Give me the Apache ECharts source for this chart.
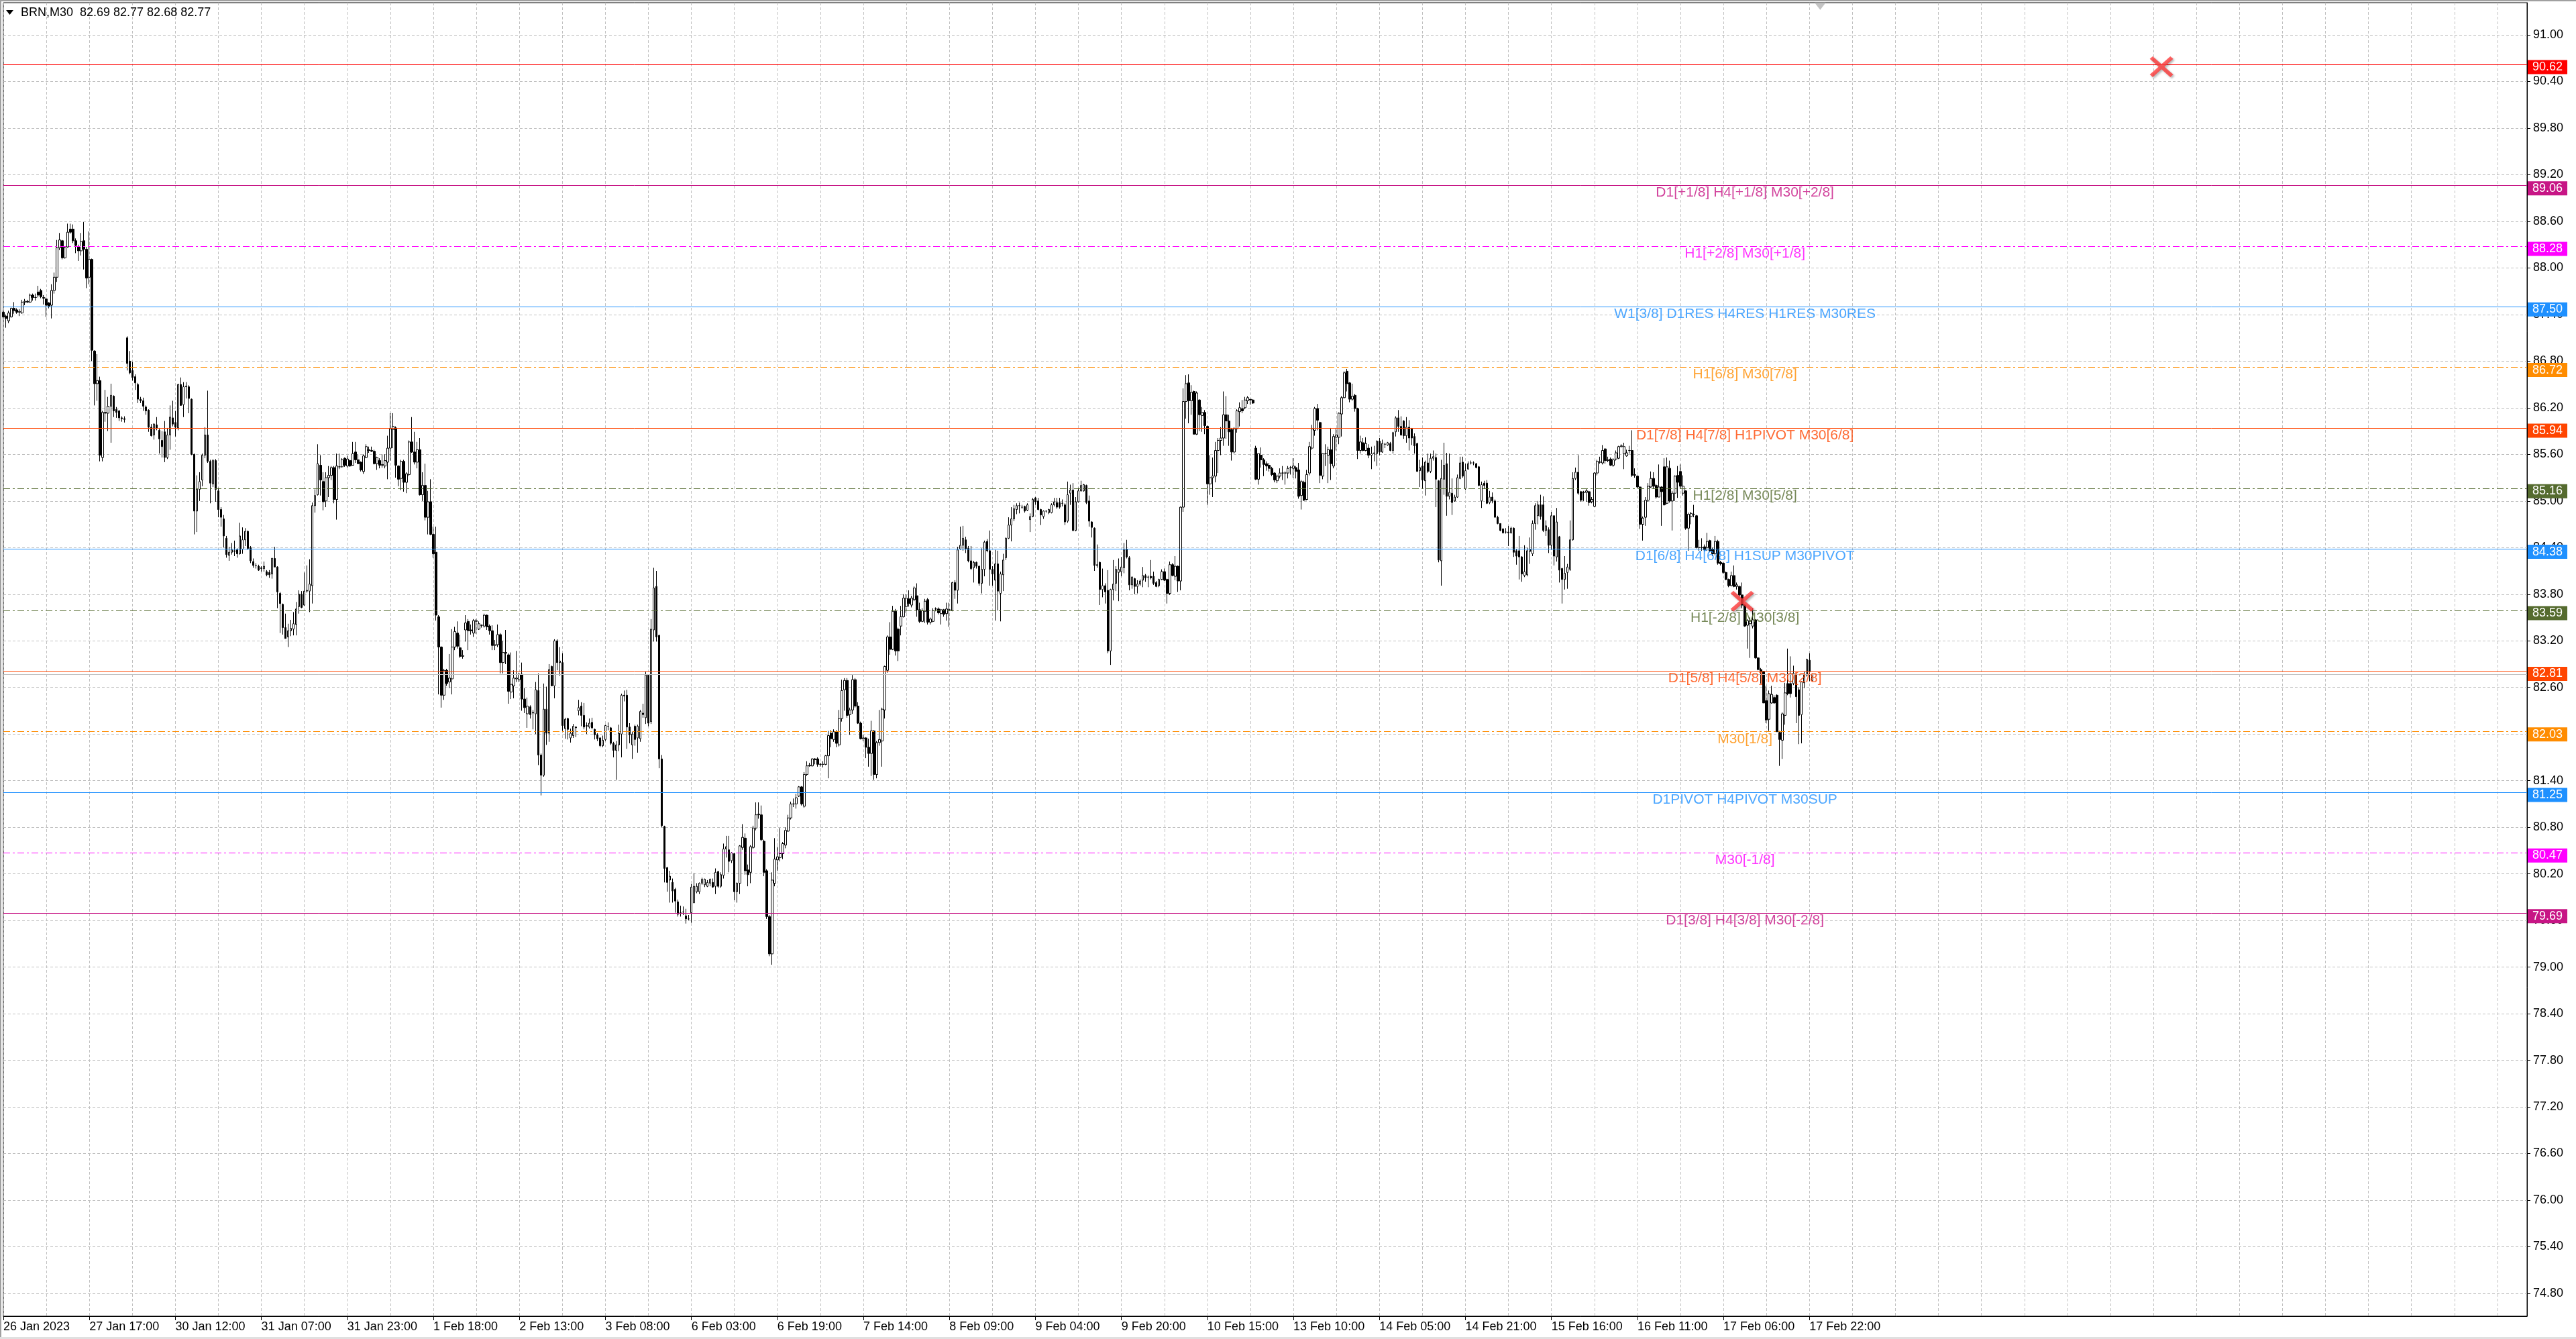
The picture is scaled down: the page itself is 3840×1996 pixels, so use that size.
<!DOCTYPE html>
<html>
<head>
<meta charset="utf-8">
<title>BRN,M30</title>
<script src="https://cdn.jsdelivr.net/npm/echarts@6.0.0/dist/echarts.min.js"></script>
<style>
html,body{margin:0;padding:0;background:#fff;}
#chart{width:3840px;height:1996px;}
</style>
</head>
<body>
<div id="chart"></div>
<script>
var symbolName = 'BRN,M30';

// x axis: one label every 32 bars
var tickLabels = ['26 Jan 2023','27 Jan 17:00','30 Jan 12:00','31 Jan 07:00','31 Jan 23:00','1 Feb 18:00',
  '2 Feb 13:00','3 Feb 08:00','6 Feb 03:00','6 Feb 19:00','7 Feb 14:00','8 Feb 09:00','9 Feb 04:00',
  '9 Feb 20:00','10 Feb 15:00','13 Feb 10:00','14 Feb 05:00','14 Feb 21:00','15 Feb 16:00',
  '16 Feb 11:00','17 Feb 06:00','17 Feb 22:00'];
var slotCount = 940;

// price axis
var yMin = 74.506, yMax = 91.4145;
var yTicks = [74.80,75.40,76.00,76.60,77.20,77.80,78.40,79.00,79.60,80.20,80.80,81.40,82.00,82.60,
  83.20,83.80,84.40,85.00,85.60,86.20,86.80,87.40,88.00,88.60,89.20,89.80,90.40,91.00];

// murrey / pivot levels
var levels = [90.62,89.06,88.28,87.50,86.72,85.94,85.16,84.38,83.59,82.81,82.03,81.25,80.47,79.69];
var levelColors = ['#ff0000','#c71585','#ff00ff','#1e90ff','#ff8c00','#ff4500','#556b2f',
  '#1e90ff','#556b2f','#ff4500','#ff8c00','#1e90ff','#ff00ff','#c71585'];
var levelDashed = [0,0,1,0,1,0,1,0,1,0,1,0,1,0];
var levelTexts = ['','D1[+1/8] H4[+1/8] M30[+2/8]','H1[+2/8] M30[+1/8]','W1[3/8] D1RES H4RES H1RES M30RES',
  'H1[6/8] M30[7/8]','D1[7/8] H4[7/8] H1PIVOT M30[6/8]','H1[2/8] M30[5/8]','D1[6/8] H4[6/8] H1SUP M30PIVOT',
  'H1[-2/8] M30[3/8]','D1[5/8] H4[5/8] M30[2/8]','M30[1/8]','D1PIVOT H4PIVOT M30SUP','M30[-1/8]',
  'D1[3/8] H4[3/8] M30[-2/8]'];
var levelTextSlot = 648;
var bidPrice = 82.77;

// red cross objects and chart shift marker
var crossSlots = [647, 803];
var crossPrices = [83.71, 90.59];
var shiftSlot = 676, shiftPrice = 91.37;

// M30 bars: [open, high, low, close]
var bars = [
[87.43,87.45,87.35,87.37],[87.38,87.40,87.23,87.35],[87.32,87.45,87.29,87.42],[87.37,87.49,87.36,87.48],[87.48,87.56,87.41,87.45],
[87.46,87.48,87.41,87.43],[87.43,87.47,87.38,87.44],[87.42,87.59,87.41,87.56],[87.56,87.60,87.52,87.57],[87.57,87.59,87.55,87.56],
[87.56,87.67,87.55,87.65],[87.65,87.67,87.58,87.62],[87.62,87.67,87.58,87.62],[87.69,87.77,87.62,87.65],[87.71,87.73,87.61,87.63],
[87.62,87.65,87.53,87.61],[87.60,87.62,87.37,87.52],[87.55,87.56,87.48,87.51],[87.52,87.79,87.35,87.71],[87.71,87.94,87.67,87.88],
[87.88,88.36,87.82,88.26],[88.26,88.45,88.23,88.36],[88.35,88.36,88.11,88.13],[88.13,88.28,88.12,88.26],[88.27,88.57,88.26,88.46],
[88.50,88.57,88.44,88.46],[88.50,88.56,88.32,88.35],[88.35,88.38,88.19,88.29],[88.27,88.30,88.09,88.22],[88.22,88.45,88.16,88.34],
[88.35,88.59,87.98,88.24],[88.24,88.27,87.74,87.87],[87.88,88.47,87.79,88.11],[88.11,88.12,86.80,86.94],[86.93,86.94,86.23,86.51],
[86.51,86.89,86.29,86.55],[86.55,86.60,85.51,85.59],[85.56,86.16,85.51,86.14],[86.14,86.43,86.02,86.13],[86.13,86.34,85.90,86.22],
[86.22,86.51,85.75,86.36],[86.35,86.36,86.08,86.16],[86.18,86.21,86.07,86.14],[86.16,86.17,86.03,86.07],[86.07,86.09,86.02,86.06],
[86.06,86.09,86.01,86.05],[87.10,87.12,86.68,86.77],[86.80,86.93,86.63,86.65],[86.68,86.79,86.55,86.59],[86.60,86.63,86.43,86.52],
[86.50,86.52,86.26,86.31],[86.31,86.34,86.26,86.29],[86.29,86.33,86.16,86.22],[86.21,86.23,86.11,86.16],[86.17,86.18,85.89,85.95],
[85.95,85.99,85.83,85.84],[85.85,86.00,85.79,85.99],[85.98,86.08,85.91,85.94],[85.91,85.94,85.61,85.80],[85.78,85.90,85.56,85.70],
[85.89,86.03,85.50,85.56],[85.56,85.94,85.54,85.85],[85.85,86.23,85.66,86.08],[86.07,86.29,85.96,85.99],[86.01,86.16,85.83,85.95],
[85.94,86.51,85.91,86.50],[86.50,86.59,86.23,86.23],[86.24,86.53,86.08,86.47],[86.47,86.53,86.32,86.48],[86.47,86.49,86.13,86.32],
[86.31,86.32,85.59,85.60],[85.60,85.61,84.57,84.87],[84.87,85.33,84.60,85.15],[85.15,85.37,85.00,85.25],[85.27,85.61,85.19,85.59],
[85.59,85.95,85.55,85.85],[85.85,86.42,85.49,85.51],[85.51,85.53,84.97,85.23],[85.22,85.54,85.18,85.52],[85.52,85.54,84.99,85.15],
[85.13,85.17,84.79,84.89],[84.89,84.92,84.67,84.79],[84.77,84.82,84.40,84.55],[84.52,84.55,84.27,84.31],[84.30,84.41,84.23,84.34],
[84.34,84.46,84.31,84.37],[84.36,84.49,84.29,84.35],[84.37,84.39,84.27,84.32],[84.32,84.72,84.31,84.55],[84.38,84.66,84.32,84.50],
[84.50,84.65,84.42,84.61],[84.61,84.62,84.37,84.39],[84.40,84.42,84.20,84.23],[84.22,84.26,84.14,84.17],[84.17,84.20,84.13,84.17],
[84.16,84.18,84.10,84.11],[84.13,84.16,84.09,84.14],[84.13,84.22,84.09,84.16],[84.09,84.11,84.03,84.05],[84.08,84.11,84.01,84.05],
[84.06,84.27,84.00,84.26],[84.26,84.41,84.15,84.15],[84.15,84.16,83.62,83.83],[83.81,83.83,83.30,83.68],[83.67,83.68,83.28,83.37],
[83.37,83.55,83.23,83.23],[83.25,83.42,83.12,83.33],[83.33,83.47,83.26,83.36],[83.35,83.57,83.27,83.42],[83.41,83.70,83.27,83.61],
[83.64,83.85,83.55,83.80],[83.80,83.84,83.62,83.63],[83.66,84.08,83.65,83.84],[83.84,84.17,83.82,83.85],[83.84,84.25,83.57,83.93],
[83.91,84.98,83.68,84.94],[84.94,85.15,84.85,85.07],[85.08,85.73,85.07,85.48],[85.46,85.59,85.07,85.27],[85.25,85.37,84.88,84.99],
[85.00,85.37,84.92,85.30],[85.30,85.45,85.05,85.33],[85.33,85.45,85.27,85.43],[85.43,85.45,84.97,85.02],[85.02,85.61,84.76,85.45],
[85.44,85.61,85.41,85.44],[85.44,85.55,85.43,85.53],[85.55,85.56,85.44,85.46],[85.45,85.58,85.43,85.54],[85.52,85.53,85.44,85.45],
[85.46,85.76,85.46,85.61],[85.63,85.76,85.49,85.53],[85.53,85.60,85.48,85.48],[85.50,85.51,85.38,85.40],[85.38,85.60,85.35,85.58],
[85.56,85.73,85.55,85.70],[85.66,85.70,85.62,85.65],[85.65,85.70,85.63,85.64],[85.64,85.66,85.47,85.48],[85.48,85.57,85.40,85.56],
[85.52,85.55,85.42,85.46],[85.46,85.60,85.43,85.47],[85.45,85.60,85.42,85.52],[85.50,85.84,85.28,85.68],[85.68,86.13,85.52,85.93],
[85.92,86.13,85.68,85.96],[85.94,85.96,85.30,85.46],[85.45,85.46,85.19,85.28],[85.29,85.53,85.14,85.51],[85.51,85.53,85.12,85.24],
[85.24,85.37,85.10,85.35],[85.34,85.78,85.32,85.76],[85.76,86.08,85.62,85.63],[85.63,85.89,85.47,85.50],[85.50,85.76,85.42,85.66],
[85.66,85.81,85.07,85.08],[85.08,85.37,85.00,85.20],[85.20,85.48,84.75,84.79],[84.79,85.13,84.57,84.99],[84.99,85.28,84.56,84.57],
[84.57,84.67,84.27,84.32],[84.34,84.67,83.46,83.53],[83.51,83.53,82.51,83.12],[83.12,83.13,82.34,82.50],[82.50,82.84,82.44,82.82],
[82.82,82.84,82.62,82.65],[82.67,83.03,82.59,82.72],[82.71,83.35,82.51,83.12],[83.12,83.38,83.08,83.32],[83.30,83.45,83.10,83.13],
[83.11,83.28,82.98,83.00],[83.00,83.08,82.97,83.01],[83.34,83.53,83.19,83.43],[83.45,83.48,83.08,83.33],[83.34,83.41,83.28,83.33],
[83.30,83.48,83.25,83.46],[83.45,83.48,83.29,83.46],[83.35,83.45,83.34,83.42],[83.40,83.41,83.37,83.40],[83.39,83.55,83.37,83.53],
[83.53,83.54,83.34,83.38],[83.39,83.41,83.28,83.33],[83.33,83.40,83.08,83.14],[83.14,83.21,83.08,83.15],[83.15,83.41,83.12,83.28],
[83.28,83.30,82.78,82.92],[82.92,83.20,82.78,83.05],[83.05,83.34,82.90,83.04],[83.02,83.04,82.39,82.55],[82.54,83.05,82.45,82.64],
[82.62,82.82,82.46,82.72],[82.71,83.07,82.67,82.72],[82.70,82.79,82.67,82.77],[82.77,82.92,82.30,82.45],[82.45,82.59,82.27,82.34],
[82.26,82.47,82.08,82.36],[82.35,82.37,82.20,82.25],[82.27,82.31,82.06,82.28],[82.26,82.67,82.00,82.57],[82.56,82.78,81.60,81.73],
[81.73,81.75,81.21,81.47],[81.47,82.65,81.45,82.32],[82.32,82.61,81.86,82.01],[82.01,82.90,81.90,82.83],[82.87,82.88,82.62,82.62],
[82.62,83.22,82.46,83.20],[83.20,83.22,82.82,82.92],[82.92,83.12,82.75,82.94],[82.92,83.04,82.04,82.11],[82.07,82.21,81.94,82.19],
[82.20,82.21,81.93,82.06],[81.95,82.07,81.89,82.01],[81.98,82.13,81.95,82.10],[82.09,82.10,81.96,82.08],[82.30,82.44,82.24,82.34],
[82.36,82.41,82.10,82.24],[82.24,82.40,82.06,82.09],[82.11,82.15,82.00,82.10],[82.09,82.20,82.07,82.14],[82.15,82.21,82.06,82.08],
[82.06,82.07,81.93,81.99],[81.99,82.01,81.91,81.94],[81.95,81.96,81.83,81.85],[81.85,81.98,81.83,81.92],[81.93,82.12,81.91,82.11],
[82.10,82.15,82.05,82.10],[82.08,82.09,81.86,81.88],[81.88,81.90,81.70,81.79],[81.79,81.91,81.41,81.86],[81.86,82.12,81.78,82.01],
[82.00,82.52,81.70,82.50],[82.50,82.56,82.42,82.49],[82.50,82.57,81.81,82.09],[82.09,82.14,81.88,81.99],[81.86,82.03,81.68,82.00],
[82.10,82.12,81.85,81.93],[81.95,82.12,81.76,82.10],[81.94,82.31,81.90,82.29],[82.27,82.39,82.21,82.25],[82.21,82.80,82.13,82.76],
[82.76,82.77,82.10,82.14],[82.16,83.48,82.13,83.35],[83.34,84.14,83.19,83.88],[83.90,84.10,83.19,83.25],[83.27,83.28,81.56,81.68],
[81.68,81.73,80.80,80.82],[80.81,80.82,80.09,80.27],[80.28,80.29,79.97,80.09],[80.12,80.24,79.83,80.17],[80.09,80.14,79.83,79.98],
[80.00,80.02,79.70,79.85],[79.84,79.87,79.65,79.68],[79.69,79.79,79.65,79.70],[79.71,79.78,79.67,79.71],[79.66,79.75,79.56,79.62],
[79.62,79.67,79.60,79.62],[79.70,80.07,79.57,80.03],[79.83,80.21,79.82,80.04],[79.97,80.08,79.95,80.04],[79.97,80.09,79.94,80.08],
[80.08,80.15,80.06,80.13],[80.06,80.14,80.03,80.13],[80.04,80.12,80.03,80.09],[80.08,80.14,80.04,80.13],[80.09,80.14,80.02,80.03],
[80.04,80.27,79.94,80.22],[80.23,80.24,80.02,80.04],[80.04,80.22,80.02,80.19],[80.18,80.59,80.14,80.52],[80.52,80.69,80.41,80.55],
[80.51,80.69,80.22,80.36],[80.37,80.48,80.34,80.47],[80.46,80.47,79.86,79.97],[79.97,80.09,79.83,80.08],[80.08,80.57,79.94,80.56],
[80.54,80.84,80.51,80.67],[80.66,80.72,80.19,80.24],[80.25,80.32,80.04,80.19],[80.22,80.57,80.08,80.55],[80.54,80.82,80.52,80.79],
[80.79,81.12,80.76,80.96],[80.96,81.12,80.91,80.97],[80.96,81.08,80.62,80.64],[80.62,80.64,80.17,80.22],[80.24,80.26,79.62,79.65],
[79.65,79.67,79.14,79.17],[79.17,80.22,79.03,80.12],[80.08,80.66,80.04,80.39],[80.38,80.55,80.24,80.42],[80.41,80.79,80.36,80.46],
[80.46,80.61,80.39,80.59],[80.57,80.80,80.53,80.76],[80.75,80.96,80.74,80.92],[80.92,81.13,80.90,81.10],[81.10,81.17,81.06,81.10],
[81.10,81.23,81.04,81.18],[81.20,81.33,81.19,81.32],[81.32,81.33,81.08,81.10],[81.07,81.51,81.05,81.48],[81.48,81.65,81.46,81.59],
[81.59,81.63,81.58,81.60],[81.59,81.69,81.58,81.68],[81.68,81.69,81.61,81.67],[81.68,81.70,81.58,81.61],[81.61,81.63,81.58,81.61],
[81.61,81.65,81.57,81.61],[81.61,81.73,81.60,81.72],[81.72,82.04,81.43,81.98],[82.01,82.05,81.83,81.94],[81.93,82.06,81.90,82.03],
[82.03,82.05,81.83,81.88],[81.86,82.31,81.84,82.20],[82.20,82.70,82.16,82.56],[82.57,82.72,82.30,82.69],[82.69,82.72,82.21,82.24],
[82.25,82.34,81.99,82.31],[82.31,82.76,82.26,82.70],[82.70,82.72,82.34,82.36],[82.36,82.41,82.13,82.14],[82.14,82.16,81.93,81.94],
[81.94,81.99,81.91,81.95],[81.95,81.96,81.69,81.83],[81.83,81.94,81.58,81.75],[81.75,82.17,81.46,82.04],[82.04,82.05,81.41,81.48],
[81.48,81.91,81.43,81.89],[81.89,82.31,81.85,81.93],[81.91,82.34,81.58,82.32],[82.31,82.88,82.20,82.87],[82.82,83.27,82.79,83.25],
[83.25,83.44,83.02,83.09],[83.09,83.65,83.08,83.58],[83.58,83.61,83.01,83.07],[83.35,83.37,82.94,83.07],[83.39,83.65,83.27,83.51],
[83.51,83.80,83.50,83.75],[83.64,83.80,83.56,83.75],[83.74,83.85,83.64,83.68],[83.66,83.78,83.63,83.75],[83.73,83.90,83.71,83.88],
[83.78,83.94,83.51,83.60],[83.60,83.69,83.43,83.45],[83.45,83.62,83.44,83.59],[83.58,83.74,83.43,83.71],[83.73,83.75,83.41,83.44],
[83.44,83.50,83.41,83.48],[83.45,83.62,83.44,83.59],[83.61,83.63,83.58,83.61],[83.61,83.63,83.54,83.56],[83.55,83.61,83.41,83.60],
[83.60,83.61,83.51,83.54],[83.55,83.69,83.46,83.61],[83.60,83.69,83.38,83.60],[83.59,83.96,83.58,83.95],[83.95,83.98,83.74,83.85],
[83.85,84.41,83.68,84.37],[84.38,84.67,84.37,84.43],[84.43,84.68,84.36,84.52],[84.50,84.54,84.33,84.38],[84.39,84.42,84.21,84.23],
[84.23,84.42,84.11,84.13],[84.14,84.23,83.95,84.21],[84.21,84.22,84.13,84.16],[84.16,84.17,83.91,83.94],[83.94,84.39,83.81,84.12],
[84.12,84.49,84.03,84.47],[84.48,84.51,84.34,84.36],[84.36,84.62,83.91,84.12],[84.12,84.16,83.91,84.06],[83.98,84.37,83.46,84.19],
[84.19,84.36,83.59,83.84],[83.81,84.09,83.45,84.06],[84.05,84.32,83.84,84.24],[84.27,84.53,84.24,84.52],[84.52,84.79,84.51,84.69],
[84.69,84.92,84.48,84.77],[84.77,84.95,84.74,84.90],[84.89,84.97,84.83,84.94],[84.94,84.98,84.84,84.94],[84.92,84.95,84.90,84.92],
[84.93,84.94,84.85,84.87],[84.88,84.97,84.87,84.95],[84.76,84.84,84.60,84.80],[84.80,85.04,84.79,85.02],[85.04,85.05,84.95,84.99],
[85.00,85.04,84.88,84.89],[84.89,84.90,84.69,84.82],[84.80,84.88,84.77,84.87],[84.87,84.88,84.85,84.87],[84.85,84.90,84.83,84.89],
[84.85,84.97,84.84,84.95],[84.95,85.04,84.93,84.99],[84.98,85.04,84.90,84.92],[84.98,85.04,84.90,84.92],[84.97,85.02,84.93,84.97],
[84.95,84.97,84.69,84.73],[84.74,85.25,84.72,85.08],[85.10,85.21,84.95,85.14],[85.14,85.23,84.61,84.62],[84.62,85.05,84.61,84.99],
[84.99,85.17,84.98,85.13],[85.13,85.26,85.12,85.20],[85.13,85.22,85.12,85.21],[85.20,85.21,84.96,84.98],[85.00,85.07,84.67,84.74],
[84.73,84.74,84.53,84.66],[84.65,84.66,84.10,84.17],[84.17,84.44,84.14,84.18],[84.21,84.22,83.66,83.86],[83.86,84.13,83.76,83.91],
[83.91,83.94,83.68,83.83],[83.85,84.11,83.04,83.07],[83.07,83.87,82.89,83.86],[83.86,84.24,83.72,83.93],[83.94,84.16,83.84,84.12],
[84.08,84.26,83.71,84.12],[84.09,84.28,84.03,84.15],[84.14,84.46,84.07,84.37],[84.38,84.50,84.26,84.28],[84.27,84.29,83.85,83.92],
[83.92,84.03,83.87,84.02],[84.00,84.01,83.80,83.90],[83.90,83.98,83.81,83.93],[83.93,83.99,83.91,83.97],[83.98,84.15,83.89,84.04],
[84.04,84.06,83.96,84.01],[84.02,84.04,83.89,84.02],[84.03,84.24,83.99,84.01],[84.03,84.09,83.92,83.94],[83.95,83.97,83.89,83.90],
[83.91,84.00,83.89,83.99],[83.99,84.12,83.98,84.09],[84.09,84.13,83.97,83.98],[83.99,84.00,83.68,83.81],[83.81,84.22,83.79,84.18],
[84.18,84.20,84.03,84.04],[84.03,84.29,83.98,84.16],[84.16,84.17,83.83,83.97],[83.97,84.93,83.85,84.92],[84.92,86.45,84.86,86.28],
[86.28,86.62,86.06,86.51],[86.52,86.63,86.00,86.29],[86.29,86.49,86.11,86.40],[86.41,86.42,85.86,85.86],[85.86,86.41,85.85,86.39],
[86.30,86.31,85.90,86.11],[86.10,86.21,85.89,86.14],[86.14,86.17,85.86,85.97],[85.96,85.97,84.95,85.22],[85.22,85.59,85.08,85.30],
[85.30,85.56,85.05,85.32],[85.32,85.76,85.24,85.65],[85.65,85.81,85.36,85.78],[85.78,85.95,85.59,85.81],[85.81,86.41,85.71,86.11],
[86.11,86.35,85.80,86.03],[86.03,86.11,85.71,85.89],[85.92,85.94,85.52,85.63],[85.63,85.95,85.61,85.93],[85.93,86.18,85.88,86.16],
[86.15,86.27,85.96,86.20],[86.19,86.30,86.13,86.16],[86.20,86.34,86.18,86.30],[86.29,86.35,86.25,86.33],[86.31,86.31,86.24,86.30],
[86.30,86.31,86.25,86.26],[85.68,85.71,85.27,85.28],[85.28,85.61,85.21,85.61],[85.59,85.69,85.43,85.53],[85.53,85.55,85.32,85.47],
[85.48,85.51,85.39,85.45],[85.46,85.49,85.38,85.42],[85.42,85.44,85.32,85.34],[85.36,85.37,85.24,85.27],[85.26,85.34,85.23,85.32],
[85.32,85.42,85.29,85.36],[85.36,85.45,85.27,85.36],[85.36,85.38,85.21,85.36],[85.36,85.45,85.29,85.42],[85.43,85.45,85.34,85.43],
[85.42,85.55,85.30,85.45],[85.43,85.45,85.29,85.38],[85.40,85.49,85.03,85.06],[85.07,85.27,84.89,85.25],[85.24,85.26,85.00,85.01],
[85.02,85.40,85.01,85.34],[85.36,85.76,85.33,85.70],[85.68,85.98,85.66,85.93],[85.91,86.21,85.84,86.19],[86.19,86.25,85.91,86.04],
[86.01,86.02,85.23,85.33],[85.32,85.61,85.28,85.61],[85.61,85.73,85.45,85.61],[85.59,85.70,85.23,85.66],[85.66,85.94,85.27,85.48],
[85.45,85.86,85.42,85.83],[85.82,85.94,85.65,85.85],[85.82,86.14,85.73,86.13],[86.12,86.35,85.83,86.33],[86.33,86.67,86.32,86.65],
[86.67,86.70,86.41,86.51],[86.52,86.53,86.27,86.31],[86.31,86.51,86.29,86.35],[86.36,86.38,86.15,86.19],[86.19,86.20,85.54,85.65],
[85.65,85.84,85.61,85.76],[85.75,85.81,85.64,85.65],[85.65,85.82,85.64,85.74],[85.68,85.73,85.55,85.59],[85.59,85.70,85.41,85.61],
[85.61,85.71,85.51,85.62],[85.61,85.78,85.45,85.77],[85.77,85.81,85.59,85.63],[85.63,85.79,85.62,85.74],[85.73,85.75,85.68,85.73],
[85.72,85.76,85.71,85.75],[85.74,85.76,85.64,85.65],[85.65,85.89,85.61,85.88],[85.89,86.09,85.83,86.07],[86.07,86.17,85.89,85.96],
[85.96,86.09,85.84,85.85],[86.03,86.04,85.80,85.84],[85.84,86.08,85.75,85.95],[85.95,86.04,85.65,85.81],[85.93,85.94,85.72,85.81],
[85.83,85.87,85.61,85.71],[85.74,85.75,85.38,85.38],[85.39,85.53,85.18,85.43],[85.45,85.56,85.16,85.27],[85.26,85.52,85.07,85.50],
[85.49,85.61,85.36,85.38],[85.38,85.61,85.36,85.55],[85.55,85.65,85.52,85.57],[85.56,85.61,84.92,85.28],[85.26,85.27,84.21,84.24],
[84.23,85.53,83.91,85.29],[85.28,85.75,85.08,85.46],[85.48,85.62,84.81,85.06],[85.06,85.61,85.02,85.11],[85.10,85.29,84.82,84.98],
[85.00,85.08,84.99,85.05],[85.05,85.34,85.04,85.30],[85.29,85.57,85.28,85.49],[85.50,85.57,85.30,85.32],[85.16,85.48,85.14,85.39],
[85.41,85.51,85.41,85.48],[85.49,85.52,85.47,85.49],[85.49,85.51,85.46,85.49],[85.48,85.49,85.42,85.43],[85.44,85.45,85.19,85.20],
[85.00,85.25,84.91,85.21],[85.23,85.26,85.16,85.20],[85.23,85.27,84.96,84.97],[84.98,85.13,84.96,85.05],[85.05,85.11,84.97,85.00],
[85.00,85.02,84.79,84.79],[84.79,84.81,84.70,84.71],[84.71,84.71,84.61,84.62],[84.64,84.65,84.58,84.59],[84.60,84.65,84.58,84.60],
[84.60,84.68,84.42,84.59],[84.59,84.67,84.58,84.65],[84.65,84.66,84.28,84.34],[84.36,84.38,84.18,84.29],[84.36,84.55,83.99,84.28],
[84.28,84.29,83.96,84.06],[84.04,84.43,84.02,84.09],[84.05,84.40,84.03,84.36],[84.35,84.53,84.19,84.38],[84.32,84.75,84.29,84.71],
[84.71,84.97,84.63,84.94],[84.81,85.00,84.70,84.95],[84.95,85.08,84.76,84.80],[84.95,85.06,84.60,84.62],[84.62,84.75,84.55,84.68],
[84.63,84.66,84.33,84.43],[84.43,84.86,84.37,84.81],[84.81,84.81,84.17,84.29],[84.28,84.91,84.22,84.73],[84.54,84.55,83.95,84.11],
[84.13,84.14,83.68,83.99],[83.99,84.29,83.86,84.07],[84.08,84.19,83.87,84.15],[84.12,84.75,84.10,84.50],[84.50,85.37,84.49,85.29],
[85.29,85.43,85.27,85.37],[85.37,85.59,85.08,85.10],[85.12,85.13,84.99,85.01],[85.11,85.13,85.00,85.11],[85.11,85.16,84.99,85.13],
[85.12,85.13,84.94,84.98],[84.99,85.05,84.97,85.02],[84.93,85.37,84.92,85.36],[85.36,85.53,85.33,85.51],[85.50,85.57,85.48,85.50],
[85.49,85.72,85.47,85.65],[85.67,85.68,85.48,85.52],[85.52,85.57,85.50,85.53],[85.54,85.56,85.45,85.46],[85.46,85.55,85.44,85.53],
[85.54,85.65,85.52,85.62],[85.55,85.71,85.54,85.70],[85.70,85.73,85.69,85.71],[85.61,85.75,85.41,85.70],[85.58,85.66,85.57,85.62],
[85.65,85.71,85.61,85.65],[85.65,85.91,85.31,85.33],[85.33,85.42,85.30,85.34],[85.32,85.33,85.17,85.18],[85.18,85.19,84.64,84.70],
[84.70,84.80,84.49,84.78],[84.79,85.05,84.68,85.01],[85.01,85.23,84.99,85.19],[85.18,85.38,85.17,85.29],[85.29,85.37,85.16,85.19],
[85.20,85.22,85.03,85.05],[85.05,85.47,85.05,85.18],[85.18,85.19,84.68,85.12],[85.44,85.55,84.94,84.95],[84.97,85.56,84.96,85.44],
[85.42,85.52,84.98,85.00],[85.00,85.13,84.62,85.10],[85.10,85.33,85.00,85.32],[85.33,85.45,85.04,85.24],[85.38,85.47,85.16,85.19],
[85.10,85.33,85.07,85.19],[85.13,85.14,84.63,84.65],[84.65,84.85,84.36,84.83],[84.80,84.86,84.70,84.84],[84.83,84.95,84.79,84.83],
[84.81,84.82,84.39,84.40],[84.40,84.50,84.36,84.40],[84.40,84.52,84.36,84.40],[84.41,84.44,84.35,84.37],[84.40,84.59,84.36,84.48],
[84.49,84.50,84.34,84.36],[84.38,84.40,84.29,84.32],[84.32,84.55,84.30,84.48],[84.48,84.50,84.18,84.20],[84.21,84.23,84.17,84.19],
[84.20,84.21,84.06,84.08],[84.08,84.09,83.98,83.99],[83.99,84.00,83.89,83.91],[83.91,84.09,83.90,84.04],[84.04,84.17,83.89,83.90],
[83.90,83.95,83.86,83.92],[83.90,83.91,83.76,83.79],[83.79,83.95,83.62,83.66],[83.66,83.67,83.38,83.39],[83.40,83.48,83.10,83.46],
[83.42,83.50,82.98,83.46],[83.39,83.62,83.36,83.47],[83.47,83.48,82.97,82.98],[82.98,82.99,82.82,82.83],[82.83,82.85,82.65,82.80],
[82.80,82.81,82.40,82.40],[82.43,82.62,82.14,82.18],[82.19,82.56,82.04,82.52],[82.40,82.62,82.39,82.51],[82.47,82.50,82.39,82.40],
[82.50,82.51,82.03,82.03],[82.02,82.04,81.59,81.93],[81.92,82.28,81.68,82.26],[82.24,82.66,82.12,82.53],[82.65,83.10,82.50,82.52],
[82.65,83.00,82.47,82.52],[82.65,82.88,82.63,82.78],[82.77,82.79,82.14,82.48],[82.57,82.60,81.87,82.24],[82.25,82.68,81.88,82.67],
[82.66,82.80,82.59,82.76],[82.76,82.97,82.74,82.96],[82.95,83.04,82.68,82.80],[82.69,82.77,82.68,82.77]
];

var FONT = 'Liberation Sans';
var cats = [];
for (var i = 0; i < slotCount; i++) cats.push(String(i));

// echarts candlestick wants [open, close, low, high]
var candleData = bars.map(function (b) { return [b[0], b[3], b[2], b[1]]; });
var last = bars[bars.length - 1];
var header = symbolName + '  ' + last.map(function (v) { return v.toFixed(2); }).join(' ');

var markLines = levels.map(function (v, i) {
  return {
    yAxis: v,
    lineStyle: { color: levelColors[i], width: 1, type: levelDashed[i] ? [10, 4, 3, 4] : 'solid' },
    label: { backgroundColor: levelColors[i] }
  };
});
markLines.unshift({ yAxis: bidPrice, lineStyle: { color: '#c0c0c0', width: 1, type: 'solid' }, label: { show: false } });

var textPoints = [];
levels.forEach(function (v, i) {
  if (!levelTexts[i]) return;
  textPoints.push({ name: levelTexts[i], value: [levelTextSlot, v], label: { color: levelColors[i] } });
});

// ticks and labels only where a time label exists
function isLabelSlot(idx) { return idx % 32 === 0 && idx / 32 < tickLabels.length; }

var chart = echarts.init(document.getElementById('chart'), null, { renderer: 'canvas' });

chart.setOption({
  animation: false,
  backgroundColor: '#ffffff',
  title: {
    text: header, left: 31, top: 10, padding: 0,
    textStyle: { fontSize: 18, fontWeight: 'normal', fontFamily: FONT, color: '#000' }
  },
  graphic: [
    { type: 'rect', shape: { x: 0, y: 0, width: 3840, height: 2 }, style: { fill: '#a0a0a0' }, silent: true },
    { type: 'rect', shape: { x: 0, y: 0, width: 2, height: 1996 }, style: { fill: '#a0a0a0' }, silent: true },
    { type: 'rect', shape: { x: 0, y: 1993, width: 3840, height: 3 }, style: { fill: '#e0e0e0' }, silent: true },
    { type: 'polygon', shape: { points: [[9, 15], [20, 15], [14.5, 22]] }, style: { fill: '#000' }, silent: true }
  ],
  grid: {
    left: 5, right: 73, top: 4, bottom: 34,
    show: true, borderColor: '#000', borderWidth: 1, backgroundColor: '#fff',
    outerBoundsMode: 'none', containLabel: false
  },
  xAxis: {
    type: 'category', data: cats, boundaryGap: false,
    axisLine: { show: true, lineStyle: { color: '#000', width: 1 } },
    axisTick: { show: true, interval: function (idx) { return isLabelSlot(idx); }, length: 6, lineStyle: { color: '#000' } },
    axisLabel: {
      interval: 31, align: 'left', margin: 7, fontSize: 18, fontFamily: FONT, color: '#000',
      formatter: function (v, idx) { return isLabelSlot(idx) ? tickLabels[idx / 32] : ''; }
    },
    splitLine: { show: true, interval: 15, lineStyle: { color: '#c0c0c0', width: 1, type: [4, 3] } }
  },
  yAxis: {
    type: 'value', position: 'right', min: yMin, max: yMax, scale: true,
    axisLine: { show: true, lineStyle: { color: '#000', width: 1 } },
    axisTick: { show: true, length: 5, customValues: yTicks, lineStyle: { color: '#000' } },
    axisLabel: {
      customValues: yTicks, margin: 9, fontSize: 18, fontFamily: FONT, color: '#000',
      formatter: function (v) { return v.toFixed(2); }
    },
    splitLine: { show: true, lineStyle: { color: '#c0c0c0', width: 1, type: [4, 3] } }
  },
  series: [
    {
      type: 'candlestick', name: symbolName, data: candleData,
      large: false, progressive: 0, barWidth: 3, silent: true,
      itemStyle: { color: '#ffffff', color0: '#000000', borderColor: '#000000', borderColor0: '#000000', borderColorDoji: '#000000', borderWidth: 1 },
      emphasis: { disabled: true },
      markLine: {
        silent: true, symbol: ['none', 'none'], animation: false,
        label: {
          show: true, position: 'end', distance: 1, offset: [0, 4],
          formatter: function (p) { return Number(p.value).toFixed(2); },
          color: '#fff', fontSize: 18, fontFamily: FONT, padding: [2, 7, 1, 7]
        },
        emphasis: { disabled: true },
        data: markLines
      }
    },
    {
      type: 'scatter', data: textPoints, symbolSize: 1, silent: true, z: 5,
      itemStyle: { color: 'rgba(0,0,0,0)' },
      label: { show: true, position: 'inside', offset: [0, 11], formatter: '{b}', fontSize: 21, fontFamily: FONT }
    },
    {
      type: 'scatter', silent: true, z: 10,
      data: crossSlots.map(function (x, i) { return [x, crossPrices[i]]; }),
      symbol: 'path://M2.5,0 L10,7.5 L17.5,0 L20,2.5 L12.5,10 L20,17.5 L17.5,20 L10,12.5 L2.5,20 L0,17.5 L7.5,10 L0,2.5 Z',
      symbolSize: [35, 31],
      itemStyle: { color: '#ff3c3c', shadowBlur: 3, shadowColor: 'rgba(0,0,0,0.35)', shadowOffsetX: 2, shadowOffsetY: 2 }
    },
    {
      type: 'scatter', silent: true, z: 6, data: [[shiftSlot, shiftPrice]],
      symbol: 'triangle', symbolRotate: 180, symbolSize: [17, 11],
      itemStyle: { color: '#b4b4b4' }
    }
  ]
});
</script>
</body>
</html>
